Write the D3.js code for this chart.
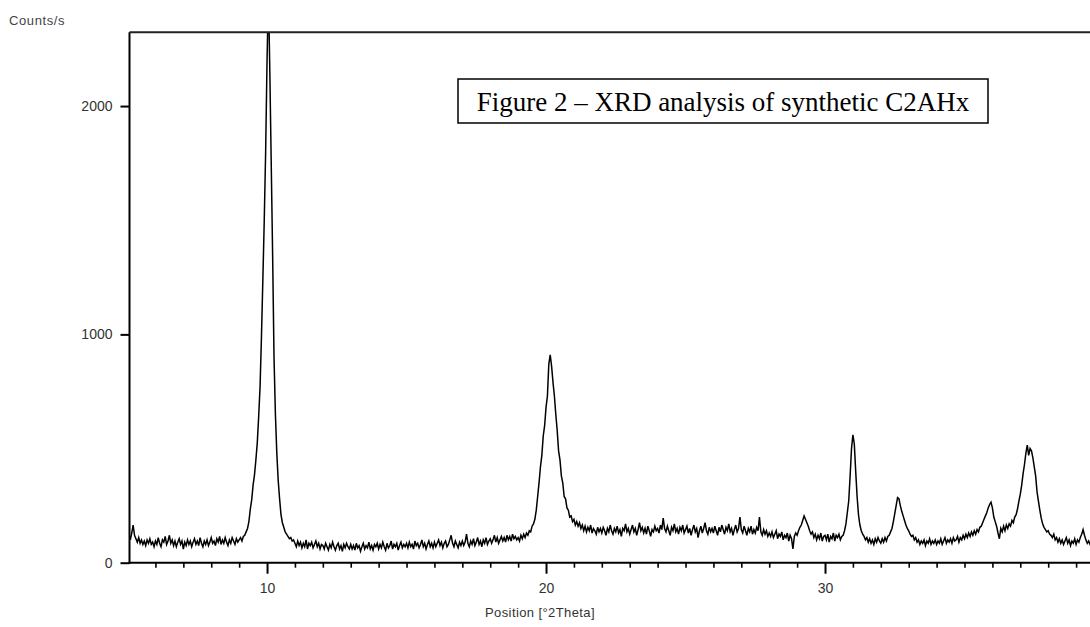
<!DOCTYPE html>
<html><head><meta charset="utf-8">
<script src="https://cdn.jsdelivr.net/npm/d3@7"></script>
<style>html,body{margin:0;padding:0;background:#fff;} svg{display:block;}</style>
</head><body>
<svg id="chart" width="1090" height="627"></svg>
<script>
// ---- data: XRD scan, 0.05 °2θ step, starting at 5.00 °2θ ----
const scanStart = 5.0;
const scanStep = 0.05;
const counts5to10 = [
  110,125,100,130,165,120,105,90,110,85,100,80,95,75,100,85,105,80,90,70,
  95,80,110,85,70,100,90,115,80,95,120,85,100,75,95,70,90,105,80,95,
  60,90,75,100,80,95,70,90,105,80,95,75,110,85,70,95,80,100,75,90,
  110,85,95,75,105,90,115,80,100,85,110,90,75,100,85,110,95,80,105,90,
  100,110,95,115,120,135,150,180,235,275,340,385,450,525,640,770,990,1240,1500,1800
];
const counts10to15 = [
  2200,2500,2150,1750,1350,900,650,480,360,280,210,175,155,135,125,115,105,110,95,100,
  85,70,95,75,90,65,85,70,100,60,85,75,90,65,80,95,70,85,60,80,
  75,60,85,70,55,80,65,90,70,55,75,85,60,75,50,80,65,85,70,60,
  80,60,75,55,85,65,75,50,70,85,60,75,65,90,60,75,55,80,70,85,
  60,80,65,90,70,55,85,65,75,95,60,80,70,85,55,75,90,65,80,70
];
const counts15to20 = [
  85,65,90,70,80,60,95,75,85,65,80,100,70,85,60,80,95,70,85,65,
  90,70,85,100,75,90,65,85,95,70,80,100,120,85,70,95,80,65,90,75,
  95,75,90,125,85,70,95,80,105,75,90,110,80,95,70,100,85,110,80,95,
  105,85,100,120,90,110,85,100,115,95,110,90,120,100,115,95,125,105,115,100,
  110,95,120,105,125,110,130,120,140,135,160,170,190,230,290,350,420,470,555,600
];
const counts20to25 = [
  680,730,870,910,860,790,730,650,580,490,450,380,350,290,280,240,230,200,205,180,
  190,165,180,160,175,150,165,140,160,135,155,140,165,130,150,140,125,155,135,150,
  130,155,140,120,150,135,165,140,125,150,135,160,130,145,115,150,140,170,135,150,
  125,145,165,135,150,120,145,175,140,155,130,150,125,160,140,115,145,135,160,140,
  150,130,165,145,195,150,135,160,140,120,155,140,170,135,150,125,155,140,165,130
];
const counts25to30 = [
  145,160,130,150,120,145,165,135,150,110,140,160,130,150,175,140,125,155,135,150,
  130,160,140,120,155,135,165,145,125,155,140,170,135,150,120,145,165,135,150,200,
  145,130,160,140,120,150,135,160,125,145,130,155,140,200,135,120,145,125,140,115,
  130,115,135,110,125,140,105,125,115,135,100,120,110,130,95,120,105,60,115,130,
  120,140,155,165,185,205,190,175,160,140,125,135,110,125,100,120,105,130,95,115
];
const counts30to35 = [
  120,100,125,90,115,105,130,95,120,110,125,100,115,120,140,170,220,270,380,500,
  560,520,400,290,210,165,140,125,115,100,110,90,105,85,100,80,105,90,110,95,
  85,105,90,110,95,115,120,135,150,180,215,250,285,280,250,225,205,185,165,150,
  140,125,115,120,100,110,90,100,80,95,85,100,75,95,85,105,80,95,85,100,
  80,95,85,105,80,95,110,85,100,90,105,85,110,95,100,115,90,110,100,120
];
const counts35to40 = [
  105,125,110,130,115,135,120,140,125,145,135,155,160,175,190,205,220,240,255,265,
  240,200,180,160,130,105,150,135,160,140,165,150,170,160,185,175,200,210,235,270,
  300,340,390,430,480,515,470,500,490,460,420,380,310,270,230,195,170,155,145,135,
  140,125,120,110,125,100,110,90,105,85,100,80,95,110,85,100,75,95,85,105,
  80,100,90,110,125,145,120,100,85,95,80,100,90,105,85,95,80,100,90,95
];
const xMajorTicks = [10, 20, 30];
const xMinorTicks = [6,7,8,9,11,12,13,14,15,16,17,18,19,21,22,23,24,25,26,27,28,29,31,32,33,34,35,36,37,38,39];
const yTicks = [0, 1000, 2000];
const yAxisTitle = "Counts/s";
const xAxisTitle = "Position [°2Theta]";
const figureTitle = "Figure 2 – XRD analysis of synthetic C2AHx";

// ---- drawing ----
(function () {
const counts = [].concat(counts5to10, counts10to15, counts15to20, counts20to25, counts25to30, counts30to35, counts35to40);
const data = counts.map((c, i) => ({ t: scanStart + i * scanStep, c: c }));

const svg = d3.select("#chart");
const pLeft = 129.5, pRight = 1104, pTop = 32.3, pBottom = 562.7;
const x = d3.scaleLinear().domain([5.07, 40]).range([pLeft, pRight]);
const y = d3.scaleLinear().domain([0, 2323]).range([pBottom, pTop]);

svg.append("rect").attr("width", 1090).attr("height", 627).attr("fill", "#fff");

svg.append("defs").append("clipPath").attr("id", "plotclip")
  .append("rect").attr("x", pLeft).attr("y", pTop).attr("width", pRight - pLeft).attr("height", pBottom - pTop);

const line = d3.line().x(d => x(d.t)).y(d => y(d.c));
svg.append("path").datum(data)
  .attr("clip-path", "url(#plotclip)")
  .attr("d", line)
  .attr("fill", "none")
  .attr("stroke", "#000")
  .attr("stroke-width", 1.5)
  .attr("stroke-linejoin", "miter");

const labelFont = "'Liberation Sans', Arial, sans-serif";

const gMinor = svg.append("g").attr("transform", `translate(0,${pBottom})`)
  .call(d3.axisBottom(x).tickValues(xMinorTicks).tickSize(5).tickSizeOuter(0).tickFormat(""));
gMinor.select(".domain").remove();
gMinor.selectAll("line").attr("stroke", "#000").attr("stroke-width", 1.6);

const gMajor = svg.append("g").attr("transform", `translate(0,${pBottom})`)
  .call(d3.axisBottom(x).tickValues(xMajorTicks).tickSize(11).tickSizeOuter(0).tickPadding(9).tickFormat(d3.format("d")));
gMajor.select(".domain").remove();
gMajor.selectAll("line").attr("stroke", "#000").attr("stroke-width", 2);
gMajor.selectAll("text").attr("font-family", labelFont).attr("font-size", 14).attr("fill", "#333");

const gY = svg.append("g").attr("transform", `translate(${pLeft},0)`)
  .call(d3.axisLeft(y).tickValues(yTicks).tickSize(9).tickSizeOuter(0).tickPadding(8).tickFormat(d3.format("d")));
gY.select(".domain").remove();
gY.selectAll("line").attr("stroke", "#000").attr("stroke-width", 2);
gY.selectAll("text").attr("font-family", labelFont).attr("font-size", 14).attr("fill", "#333");

svg.append("line").attr("x1", pLeft).attr("x2", pLeft).attr("y1", pTop).attr("y2", pBottom + 1)
  .attr("stroke", "#000").attr("stroke-width", 2);
svg.append("line").attr("x1", pLeft).attr("x2", pRight).attr("y1", pTop).attr("y2", pTop)
  .attr("stroke", "#222").attr("stroke-width", 2);
svg.append("line").attr("x1", pLeft - 1).attr("x2", pRight).attr("y1", pBottom).attr("y2", pBottom)
  .attr("stroke", "#000").attr("stroke-width", 2);

svg.append("text").attr("x", 9).attr("y", 25).text(yAxisTitle)
  .attr("font-family", labelFont).attr("font-size", 13).attr("fill", "#444").attr("letter-spacing", 0.6);
svg.append("text").attr("x", 540).attr("y", 617).attr("text-anchor", "middle").text(xAxisTitle)
  .attr("font-family", labelFont).attr("font-size", 13).attr("fill", "#333").attr("letter-spacing", 0.4);

const box = svg.append("g");
box.append("rect").attr("x", 458).attr("y", 79).attr("width", 530).attr("height", 44)
  .attr("fill", "#fff").attr("stroke", "#000").attr("stroke-width", 1.5);
box.append("text").attr("x", 723).attr("y", 111).attr("text-anchor", "middle").text(figureTitle)
  .attr("font-family", "'Liberation Serif', 'Times New Roman', serif").attr("font-size", 27).attr("fill", "#000");
})();
</script>
</body></html>
